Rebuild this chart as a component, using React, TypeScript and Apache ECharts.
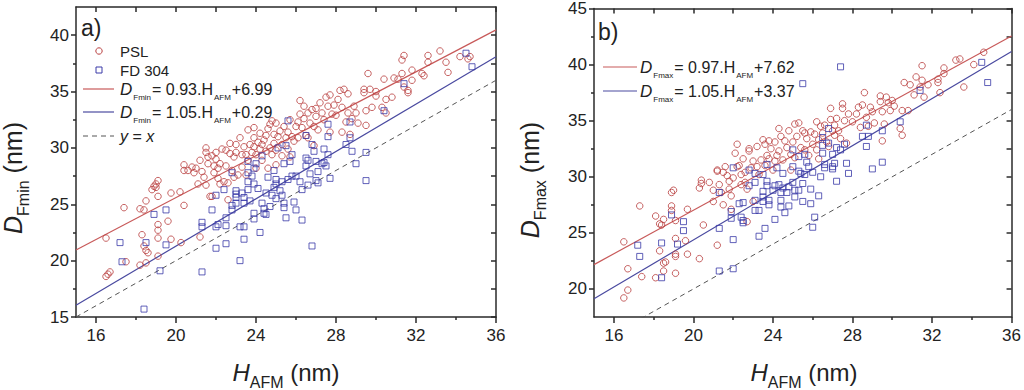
import React, { useEffect, useRef } from 'react';
import * as echarts from 'echarts';

const X_MAJOR = [16, 20, 24, 28, 32, 36];
const X_MINOR = [18, 22, 26, 30, 34];
const X_ALL = [16, 18, 20, 22, 24, 26, 28, 30, 32, 34, 36];
const LEFT_Y_MAJOR = [15, 20, 25, 30, 35, 40];
const LEFT_Y_MINOR = [17.5, 22.5, 27.5, 32.5, 37.5];
const RIGHT_Y_MAJOR = [20, 25, 30, 35, 40, 45];
const RIGHT_Y_MINOR = [22.5, 27.5, 32.5, 37.5, 42.5];

const FIT_PSL_MIN = [0.93, 6.99];
const FIT_FD_MIN = [1.05, 0.29];
const FIT_PSL_MAX = [0.97, 7.62];
const FIT_FD_MAX = [1.05, 3.37];

const pslFmin: number[][] = [
  [16.5,22.0],[16.5,18.6],[16.6,18.8],[16.7,19.0],[17.4,24.7],[17.5,19.9],
  [18.2,24.6],[18.2,19.6],[18.3,22.3],[18.4,24.5],[18.5,25.3],[18.5,20.9],[18.5,19.8],[18.6,20.7],[18.4,21.3],
  [18.8,26.3],[18.9,26.6],[19.0,26.8],[19.1,27.1],[19.0,26.5],
  [19.1,25.7],[19.1,23.2],[19.1,22.7],[19.1,22.0],[19.1,20.4],
  [19.6,23.5],[19.75,26.0],[19.75,21.9],
  [20.2,26.1],[20.25,21.6],[20.4,28.5],[20.4,28.0],[20.4,24.9],
  [20.6,28.0],[20.8,28.3],[20.9,27.8],[21.0,28.2],[21.1,26.8],
  [21.2,28.9],[21.3,27.9],[21.2,22.1],[21.4,27.4],[21.5,26.7],
  [21.5,30.0],[21.5,29.6],[21.6,29.2],[21.6,28.6],[21.7,25.7],[21.8,25.7],
  [21.8,29.3],[21.9,28.4],[21.9,27.8],[22.0,29.6],[22.0,29.0],[22.1,28.2],[22.1,27.3],[22.2,26.8],[22.2,28.6],
  [22.3,29.9],[22.4,27.0],[22.5,29.8],[22.5,28.4],[22.6,26.9],[22.6,25.4],[22.7,29.5],[22.7,30.4],[22.8,28.0],[22.9,29.2],
  [23.0,30.3],[23.0,29.6],[23.1,27.6],[23.2,30.9],[23.3,29.4],[23.3,28.3],[23.4,30.1],[23.5,29.4],[23.6,31.6],[23.6,28.9],
  [23.7,30.3],[23.8,29.6],[23.9,30.9],[23.9,30.1],[24.0,29.4],[24.0,28.2],[24.1,30.5],[24.2,31.3],[24.2,29.9],[24.3,30.3],
  [24.4,30.7],[24.5,31.1],[24.5,29.7],[24.6,31.7],[24.7,32.1],[24.7,30.0],[24.8,29.4],[24.8,32.4],[24.9,31.2],[24.9,30.4],
  [25.0,32.2],[25.0,29.8],[25.1,31.0],[25.2,31.5],[25.3,30.3],[25.3,29.3],[25.4,31.9],[25.5,30.9],[25.6,31.4],[25.6,29.9],
  [25.7,32.5],[25.8,31.0],[25.9,30.6],[26.0,31.9],[26.1,32.3],[26.1,30.9],[26.2,34.2],[26.2,33.0],[26.3,31.8],[26.4,33.7],
  [26.4,32.6],[26.5,31.1],[26.6,33.1],[26.7,32.2],[26.8,33.4],[26.9,31.9],[26.9,30.2],[27.0,33.5],[27.0,32.8],[27.1,31.6],
  [27.2,34.0],[27.3,33.1],[27.4,32.5],[27.5,34.5],[27.6,33.7],[27.7,34.7],[27.7,31.4],[27.8,33.0],[27.9,33.8],[28.0,32.9],
  [28.1,34.3],[28.2,35.1],[28.3,33.6],[28.3,31.4],[28.4,35.2],[28.5,32.3],[28.6,34.8],[28.6,33.1],[28.7,31.2],[28.8,32.6],
  [28.9,33.7],[29.0,33.1],[29.1,32.2],[29.4,35.2],[29.4,34.9],[29.5,33.3],[29.5,32.0],[29.6,36.6],[29.7,35.2],[29.8,33.6],
  [30.0,35.0],[30.0,34.6],[30.3,33.6],[30.4,36.1],[30.5,34.3],[30.5,33.1],[30.8,34.5],[30.9,36.2],[31.1,36.1],[31.3,37.8],
  [31.3,36.6],[31.4,35.4],[31.4,38.2],[31.6,35.1],[31.6,34.9],[31.8,36.9],[31.8,36.0],[32.3,36.6],[32.4,36.4],[32.6,38.2],
  [32.6,37.6],[33.2,38.6],[33.5,37.6],[33.6,36.7],[34.2,38.1],[34.6,37.9],[34.7,38.1],
  [23.5,27.6],[24.3,28.9],[25.0,28.5],[25.7,29.2],[26.6,30.9],[23.9,31.8],[22.9,27.4],[24.6,28.2]
];

const fdFmin: number[][] = [
  [17.2,21.6],[17.3,19.9],[18.4,15.7],[18.5,21.6],[18.9,24.1],[19.2,19.1],[19.5,24.5],[19.5,21.4],
  [21.3,19.0],[21.3,23.4],[21.3,23.0],[21.8,24.5],[22.0,25.8],[22.0,23.0],[22.0,21.1],[22.1,23.2],[22.4,26.3],[22.5,23.8],[22.5,23.1],[22.5,21.5],
  [22.8,27.8],[22.8,24.9],[22.8,24.5],[23.0,26.2],[23.0,25.9],[23.0,25.6],[23.0,25.1],[23.2,23.0],[23.2,20.0],[23.3,26.0],[23.4,25.6],[23.4,25.1],[23.4,23.0],[23.4,21.9],
  [23.6,28.8],[23.6,27.8],[23.6,27.0],[23.6,26.3],[23.7,25.3],[23.8,27.5],[23.9,28.2],[23.9,26.8],[23.9,24.2],[23.9,23.7],[24.0,28.6],[24.1,26.4],
  [24.2,22.5],[24.3,29.3],[24.3,25.1],[24.4,24.6],[24.4,24.2],[24.5,26.0],[24.5,24.1],[24.6,27.4],[24.7,24.8],[24.8,25.8],[24.9,28.0],[24.9,26.5],
  [25.0,27.2],[25.0,26.8],[25.0,25.5],[25.1,30.0],[25.2,26.2],[25.3,27.0],[25.3,25.8],[25.4,25.1],[25.4,24.7],[25.4,28.6],[25.5,30.2],[25.5,23.8],[25.6,32.4],
  [25.6,27.2],[25.7,28.8],[25.8,29.4],[25.8,27.5],[25.9,25.2],[26.0,27.5],[26.0,24.5],[26.2,27.0],[26.3,23.6],[26.3,26.3],
  [26.5,31.1],[26.5,29.1],[26.5,28.4],[26.6,28.9],[26.6,26.7],[26.7,27.7],[26.8,30.3],[26.9,29.7],[26.8,21.3],[27.0,28.8],[27.0,27.1],[27.1,27.9],[27.1,26.9],
  [27.3,28.6],[27.4,29.9],[27.4,28.7],[27.5,28.4],[27.6,32.1],[27.6,31.0],[27.6,29.4],[27.7,27.3],
  [28.5,30.3],[28.7,32.3],[28.7,30.9],[28.8,29.7],[29.0,28.6],[29.5,29.6],[29.5,27.1],
  [30.4,33.3],[31.4,35.7],[34.5,38.4],[34.8,37.2]
];

const pslFmax: number[][] = [
  [16.5,19.2],[16.5,24.2],[16.7,21.8],[16.7,19.9],[17.3,27.4],[17.4,21.1],
  [18.1,26.5],[18.1,21.0],[18.3,25.8],[18.3,23.4],[18.4,25.7],[18.5,26.2],[18.5,22.3],[18.5,21.6],[18.6,22.4],
  [18.9,27.4],[18.9,27.0],[18.9,28.6],[19.0,28.8],[19.1,26.1],[19.1,24.5],[19.1,23.1],[19.1,22.9],[19.1,21.4],
  [19.6,24.3],[19.7,27.1],[19.7,23.1],[20.3,22.7],[20.3,29.0],[20.4,29.7],[20.4,29.4],[20.5,25.7],
  [20.8,29.5],[21.0,28.8],[21.0,27.8],[21.2,30.6],[21.2,30.5],[21.2,23.9],[21.3,29.3],[21.4,28.6],[21.5,30.4],[21.5,27.5],
  [21.6,30.9],[21.7,30.1],[21.8,29.6],[21.8,28.9],[21.9,28.3],[21.9,27.1],[22.0,29.9],[22.1,32.1],[22.2,32.9],[22.2,30.9],
  [22.3,31.0],[22.4,30.2],[22.4,29.3],[22.5,31.6],[22.6,29.5],[22.7,28.9],[22.7,26.0],[22.8,32.3],[22.8,32.5],[22.9,30.8],
  [23.0,31.4],[23.0,27.8],[23.2,32.7],[23.3,30.2],[23.4,31.5],[23.5,33.3],[23.6,32.9],[23.6,31.0],[23.7,31.9],[23.8,31.6],
  [23.9,32.5],[24.0,30.6],[24.1,33.1],[24.2,31.9],[24.3,34.3],[24.3,32.3],[24.4,33.6],[24.5,31.5],[24.6,33.2],[24.7,32.6],
  [24.8,34.1],[24.9,32.0],[25.0,33.1],[25.1,34.7],[25.1,31.7],[25.2,33.6],[25.3,34.8],[25.4,32.6],[25.5,34.1],[25.6,32.4],
  [25.7,33.4],[25.8,31.9],[25.9,34.0],[26.0,32.9],[26.1,33.8],[26.2,34.9],[26.2,32.4],[26.3,31.6],[26.4,34.5],[26.5,33.9],
  [26.6,34.6],[26.7,33.1],[26.8,32.7],[26.9,36.1],[26.9,35.1],[27.0,34.1],[27.1,33.7],[27.2,35.2],[27.3,34.1],[27.4,33.4],
  [27.5,36.5],[27.5,36.1],[27.6,35.0],[27.7,33.0],[27.8,35.6],[28.0,34.9],[28.2,35.6],[28.3,36.2],[28.4,34.4],[28.5,36.4],
  [28.6,37.5],[28.7,35.3],[28.8,34.5],[28.9,36.2],[29.0,35.8],[29.1,34.8],[29.4,37.2],[29.4,36.7],[29.5,35.8],[29.5,33.2],
  [29.6,34.7],[29.7,37.1],[29.8,36.6],[29.9,35.9],[30.0,36.8],[30.1,36.3],[30.4,34.3],[30.5,33.7],[30.5,35.9],[30.6,38.4],
  [30.8,35.9],[30.9,38.2],[31.1,37.3],[31.2,38.9],[31.4,38.0],[31.5,39.9],[31.5,38.6],[31.6,37.1],[31.8,38.2],[32.3,38.7],
  [32.3,38.4],[32.4,37.5],[32.6,39.7],[32.6,39.2],[33.2,40.4],[33.4,40.5],[33.6,38.0],[34.1,40.0],[34.6,41.1],
  [23.2,30.9],[24.1,31.4],[24.9,30.6],[25.6,33.9],[26.3,33.3],[27.1,34.6],[22.6,30.4],[23.8,33.2]
];

const fdFmax: number[][] = [
  [17.2,23.9],[17.3,22.9],[18.4,24.1],[18.4,21.0],[18.9,26.6],[19.2,24.0],[19.5,26.0],[19.5,25.2],
  [21.3,25.4],[21.3,28.6],[21.3,21.6],[21.9,26.3],[21.9,26.9],[22.0,24.4],[22.0,21.8],[22.0,30.8],
  [22.3,27.6],[22.4,26.4],[22.5,27.7],[22.5,26.1],[22.5,25.9],[22.8,29.2],[22.8,30.6],[23.1,30.3],[23.1,29.5],[23.1,27.9],[23.1,27.0],
  [23.3,27.0],[23.3,24.7],[23.5,30.2],[23.5,28.2],[23.5,28.7],[23.5,27.8],[23.6,25.4],[23.7,31.1],[23.7,29.6],[23.7,29.2],[23.8,27.5],[23.8,27.9],
  [24.0,28.8],[24.1,29.2],[24.1,26.2],[24.2,30.8],[24.3,29.3],[24.4,28.6],[24.4,27.9],[24.4,27.3],[24.5,30.3],[24.5,29.0],[24.6,26.8],
  [24.7,28.6],[24.8,29.1],[24.8,27.4],[25.0,32.4],[25.0,30.9],[25.0,29.5],[25.1,28.8],[25.1,28.2],[25.3,30.5],[25.3,31.8],[25.3,28.8],[25.4,30.3],
  [25.5,38.3],[25.5,29.4],[25.5,27.8],[25.6,32.0],[25.6,30.2],[25.7,31.3],[25.8,30.9],[25.9,28.9],[25.9,27.6],[26.0,30.4],
  [26.0,25.5],[26.1,26.4],[26.3,28.3],[26.4,30.0],[26.5,33.5],[26.5,32.8],[26.5,32.1],[26.6,31.1],[26.6,30.8],[26.8,34.3],[26.8,33.0],
  [27.0,32.0],[27.0,30.9],[27.0,30.7],[27.1,31.2],[27.2,29.6],[27.2,32.6],[27.4,39.8],[27.4,32.4],[27.6,32.9],[27.7,31.2],[27.8,30.3],
  [28.5,33.6],[28.7,34.6],[28.7,32.7],[28.8,33.6],[29.0,30.7],[29.5,34.1],[29.5,31.3],[30.4,34.9],[31.4,37.7],[34.5,40.2],[34.8,38.4]
];

const FONT = '"Liberation Sans", Arial, sans-serif';
const AXIS = '#2a2a2a';
const RED_PT = '#b83c3c';
const BLUE_PT = '#3a3aa8';
const RED_LN = '#c85a5a';
const BLUE_LN = '#4a4aa0';
const DASH = '#555555';

function fitLine(fit: number[]) {
  return [[15, fit[0] * 15 + fit[1]], [36, fit[0] * 36 + fit[1]]];
}

function xAxes(g: number) {
  return [
    {
      type: 'value', gridIndex: g, min: 15, max: 36, position: 'bottom',
      axisLine: { show: true, onZero: false, lineStyle: { color: AXIS, width: 1.5 } },
      axisTick: { show: true, customValues: X_MAJOR, length: 6, lineStyle: { color: AXIS, width: 1.5 } },
      axisLabel: { show: true, customValues: X_MAJOR, fontSize: 17, color: '#222', margin: 10, fontFamily: FONT },
      splitLine: { show: false },
    },
    {
      type: 'value', gridIndex: g, min: 15, max: 36, position: 'bottom',
      axisLine: { show: false },
      axisTick: { show: true, customValues: X_MINOR, length: 3, lineStyle: { color: AXIS, width: 1.5 } },
      axisLabel: { show: false },
      splitLine: { show: false },
    },
    {
      type: 'value', gridIndex: g, min: 15, max: 36, position: 'top',
      axisLine: { show: true, onZero: false, lineStyle: { color: AXIS, width: 1.5 } },
      axisTick: { show: true, inside: true, customValues: X_ALL, length: 5, lineStyle: { color: AXIS, width: 1.5 } },
      axisLabel: { show: false },
      splitLine: { show: false },
    },
  ];
}

function yAxes(g: number, min: number, max: number, major: number[], minor: number[]) {
  return [
    {
      type: 'value', gridIndex: g, min, max, position: 'left',
      axisLine: { show: true, onZero: false, lineStyle: { color: AXIS, width: 1.5 } },
      axisTick: { show: true, customValues: major, length: 5, lineStyle: { color: AXIS, width: 1.5 } },
      axisLabel: { show: true, customValues: major, fontSize: 17, color: '#222', margin: 7, fontFamily: FONT },
      splitLine: { show: false },
    },
    {
      type: 'value', gridIndex: g, min, max, position: 'left',
      axisLine: { show: false },
      axisTick: { show: true, customValues: minor, length: 3, lineStyle: { color: AXIS, width: 1.5 } },
      axisLabel: { show: false },
      splitLine: { show: false },
    },
    {
      type: 'value', gridIndex: g, min, max, position: 'right',
      axisLine: { show: true, onZero: false, lineStyle: { color: AXIS, width: 1.5 } },
      axisTick: { show: true, inside: true, customValues: major.concat(minor), length: 5, lineStyle: { color: AXIS, width: 1.5 } },
      axisLabel: { show: false },
      splitLine: { show: false },
    },
  ];
}

function panelSeries(ax: number, psl: number[][], fd: number[][], fitP: number[], fitF: number[]) {
  return [
    {
      type: 'line', xAxisIndex: ax, yAxisIndex: ax, data: fitLine(fitP), symbol: 'none', silent: true, clip: true,
      lineStyle: { color: RED_LN, width: 1.2 }, z: 1,
    },
    {
      type: 'line', xAxisIndex: ax, yAxisIndex: ax, data: fitLine(fitF), symbol: 'none', silent: true, clip: true,
      lineStyle: { color: BLUE_LN, width: 1.2 }, z: 1,
    },
    {
      type: 'line', xAxisIndex: ax, yAxisIndex: ax, data: [[15, 15], [36, 36]], symbol: 'none', silent: true, clip: true,
      lineStyle: { color: DASH, width: 1, type: [5, 4] }, z: 1,
    },
    {
      type: 'scatter', xAxisIndex: ax, yAxisIndex: ax, data: psl, symbol: 'circle', symbolSize: 6.5,
      itemStyle: { color: 'rgba(0,0,0,0)', borderColor: RED_PT, borderWidth: 1 }, z: 2,
    },
    {
      type: 'scatter', xAxisIndex: ax, yAxisIndex: ax, data: fd, symbol: 'rect', symbolSize: 6,
      itemStyle: { color: 'rgba(0,0,0,0)', borderColor: BLUE_PT, borderWidth: 1 }, z: 3,
    },
  ];
}

function eqText(x: number, y: number, sub: string, rest1: string, rest2: string) {
  return {
    type: 'text', x, y, z: 10,
    style: {
      text: `{i|D}{s|${sub}}{t|${rest1}}{s|AFM}{t|${rest2}}`,
      fontFamily: FONT, fill: '#222', align: 'left', verticalAlign: 'middle',
      rich: {
        i: { fontSize: 17, fontStyle: 'italic', lineHeight: 25, verticalAlign: 'middle', fill: '#222', fontFamily: FONT },
        t: { fontSize: 16, lineHeight: 25, verticalAlign: 'middle', fill: '#222', fontFamily: FONT },
        s: { fontSize: 8, lineHeight: 8, verticalAlign: 'bottom', fill: '#222', fontFamily: FONT, padding: [0, 1, 0, 1] },
      },
    },
  };
}

function xTitle(cx: number) {
  return {
    type: 'text', x: cx, y: 372, z: 10,
    style: {
      text: '{i|H}{s|AFM}{n| (nm)}',
      fontFamily: FONT, fill: '#222', align: 'center', verticalAlign: 'middle',
      rich: {
        i: { fontSize: 24, fontStyle: 'italic', lineHeight: 36, verticalAlign: 'middle', fill: '#222', fontFamily: FONT },
        n: { fontSize: 24, lineHeight: 36, verticalAlign: 'middle', fill: '#222', fontFamily: FONT },
        s: { fontSize: 16, lineHeight: 16, verticalAlign: 'bottom', fill: '#222', fontFamily: FONT },
      },
    },
  };
}

function yTitle(cx: number, cy: number, sub: string) {
  return {
    type: 'text', x: cx, y: cy, rotation: Math.PI / 2, z: 10,
    style: {
      text: `{i|D}{s|${sub}}{n| (nm)}`,
      fontFamily: FONT, fill: '#222', align: 'center', verticalAlign: 'middle',
      rich: {
        i: { fontSize: 25, fontStyle: 'italic', lineHeight: 36, verticalAlign: 'middle', fill: '#222', fontFamily: FONT },
        n: { fontSize: 25, lineHeight: 36, verticalAlign: 'middle', fill: '#222', fontFamily: FONT },
        s: { fontSize: 16, lineHeight: 16, verticalAlign: 'bottom', fill: '#222', fontFamily: FONT },
      },
    },
  };
}

function plainText(x: number, y: number, text: string, size: number) {
  return {
    type: 'text', x, y, z: 10,
    style: { text, fontFamily: FONT, fontSize: size, fill: '#222', align: 'left', verticalAlign: 'middle' },
  };
}

function legendLine(x1: number, x2: number, y: number, color: string, dashed: boolean) {
  return {
    type: 'line', z: 10,
    shape: { x1, y1: y, x2, y2: y },
    style: { stroke: color, lineWidth: dashed ? 1 : 1.2, lineDash: dashed ? [5, 4] : null },
  };
}

export default function App() {
  const ref = useRef<HTMLDivElement>(null);
  useEffect(() => {
    if (!ref.current) return;
    const chart = echarts.init(ref.current, null, { renderer: 'svg' });
    const option: any = {
      animation: false,
      backgroundColor: '#ffffff',
      textStyle: { fontFamily: FONT },
      grid: [
        { left: 76, top: 7, width: 420, height: 310 },
        { left: 594, top: 7, width: 420, height: 310 },
      ],
      xAxis: [...xAxes(0), ...xAxes(1)],
      yAxis: [
        ...yAxes(0, 15, 42.5, LEFT_Y_MAJOR, LEFT_Y_MINOR),
        ...yAxes(1, 17.5, 45, RIGHT_Y_MAJOR, RIGHT_Y_MINOR),
      ],
      series: [
        ...panelSeries(0, pslFmin, fdFmin, FIT_PSL_MIN, FIT_FD_MIN),
        ...panelSeries(3, pslFmax, fdFmax, FIT_PSL_MAX, FIT_FD_MAX),
      ],
      graphic: [
        plainText(81, 28, 'a)', 23),
        { type: 'circle', z: 10, shape: { cx: 99, cy: 51, r: 3.2 }, style: { fill: 'none', stroke: RED_PT, lineWidth: 1 } },
        plainText(120, 51, 'PSL', 15),
        { type: 'rect', z: 10, shape: { x: 96, y: 67, width: 6, height: 6 }, style: { fill: 'none', stroke: BLUE_PT, lineWidth: 1 } },
        plainText(120, 70, 'FD 304', 15),
        legendLine(83, 114, 89, RED_LN, false),
        eqText(120, 89, 'Fmin', '= 0.93.H', '+6.99'),
        legendLine(83, 114, 112, BLUE_LN, false),
        eqText(120, 112, 'Fmin', '= 1.05.H', '+0.29'),
        legendLine(83, 114, 136, DASH, true),
        {
          type: 'text', x: 120, y: 136, z: 10,
          style: {
            text: '{i|y}{t| = }{i|x}', fontFamily: FONT, fill: '#222', align: 'left', verticalAlign: 'middle',
            rich: {
              i: { fontSize: 16, fontStyle: 'italic', fill: '#222', fontFamily: FONT },
              t: { fontSize: 16, fill: '#222', fontFamily: FONT },
            },
          },
        },
        plainText(598, 32, 'b)', 23),
        legendLine(603, 637, 67, RED_LN, false),
        eqText(640, 67, 'Fmax', '= 0.97.H', '+7.62'),
        legendLine(603, 637, 91, BLUE_LN, false),
        eqText(640, 91, 'Fmax', '= 1.05.H', '+3.37'),
        xTitle(286),
        xTitle(804),
        yTitle(13, 178, 'Fmin'),
        yTitle(530, 180, 'Fmax'),
      ],
    };
    chart.setOption(option);
    return () => chart.dispose();
  }, []);
  return (
    <div
      ref={ref}
      style={{ position: 'fixed', left: 0, top: 0, width: 1024, height: 390, background: '#fff' }}
    />
  );
}
